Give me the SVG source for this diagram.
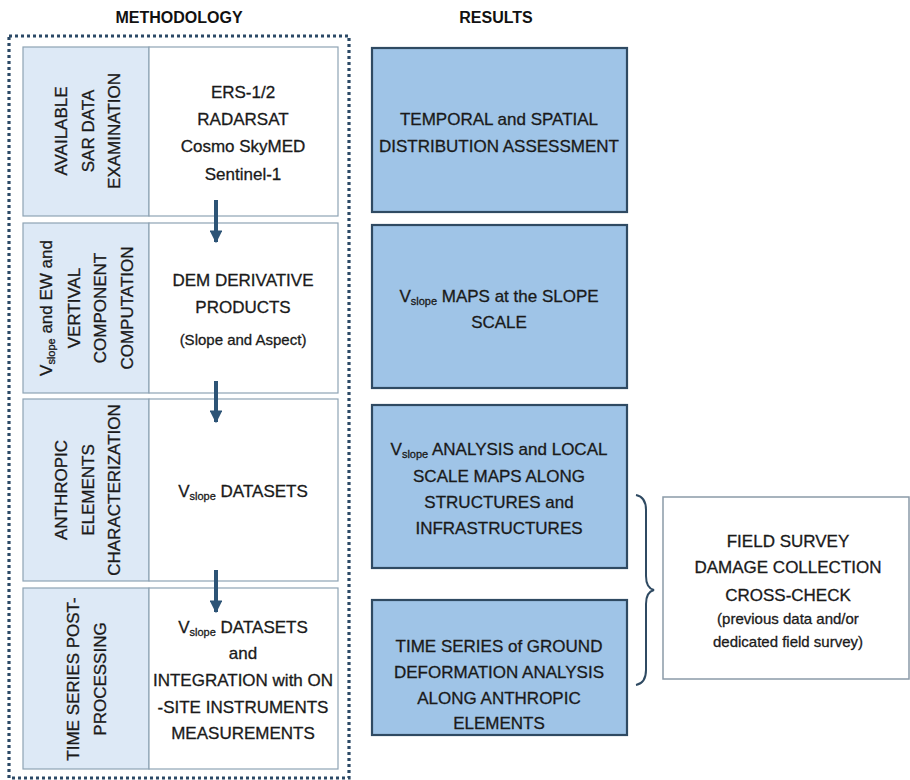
<svg xmlns="http://www.w3.org/2000/svg" width="910" height="780" viewBox="0 0 910 780">
<defs>
<style>
text{font-family:"Liberation Sans","DejaVu Sans",sans-serif;font-size:17px;fill:#1a1a1a;stroke:#1a1a1a;stroke-width:0.3;text-anchor:middle}
.title{font-weight:bold;font-size:16px;fill:#111;stroke:none}
.small{font-size:15px}
.sub{font-size:11px}
.lab{fill:#dde9f6;stroke:#8ea3b4;stroke-width:1.2}
.cell{fill:#ffffff;stroke:#8ea3b4;stroke-width:1.2}
.res{fill:#9fc4e7;stroke:#2f4a62;stroke-width:2.2}
.field{fill:#ffffff;stroke:#8b9aa8;stroke-width:1.5}
.conn{stroke:#2d5476;stroke-width:4;fill:none}
</style>
<marker id="ah" viewBox="0 0 10 10" refX="9" refY="5" markerWidth="3.2" markerHeight="3.2" orient="auto" markerUnits="strokeWidth">
<path d="M0,0 L10,5 L0,10 z" fill="#2d5476"/>
</marker>
</defs>
<rect x="0" y="0" width="910" height="780" fill="#ffffff"/>
<text class="title" x="179" y="23">METHODOLOGY</text>
<text class="title" x="496" y="23">RESULTS</text>
<rect id="frame" x="9" y="36" width="340" height="742" fill="none" stroke="#2b4966" stroke-width="3.2" stroke-dasharray="3,3"/>

<g id="stage1">
<rect class="lab" x="23" y="47" width="126" height="169"/>
<rect class="cell" x="149" y="47" width="189" height="169"/>
<g transform="translate(86,131) rotate(-90)">
<text x="0" y="-19">AVAILABLE</text>
<text x="0" y="8">SAR DATA</text>
<text x="0" y="34">EXAMINATION</text>
</g>
<text x="243" y="98">ERS-1/2</text>
<text x="243" y="125">RADARSAT</text>
<text x="243" y="152">Cosmo SkyMED</text>
<text x="243" y="180">Sentinel-1</text>
</g>

<g id="stage2">
<rect class="lab" x="23" y="223" width="126" height="170"/>
<rect class="cell" x="149" y="223" width="189" height="170"/>
<g transform="translate(86,308) rotate(-90)">
<text x="0" y="-34">V<tspan class="sub" dy="3">slope</tspan><tspan dy="-3"> and EW and</tspan></text>
<text x="0" y="-6">VERTIVAL</text>
<text x="0" y="20">COMPONENT</text>
<text x="0" y="47">COMPUTATION</text>
</g>
<text x="243" y="286">DEM DERIVATIVE</text>
<text x="243" y="313">PRODUCTS</text>
<text class="small" x="243" y="345">(Slope and Aspect)</text>
</g>

<g id="stage3">
<rect class="lab" x="23" y="399" width="126" height="182"/>
<rect class="cell" x="149" y="399" width="189" height="182"/>
<g transform="translate(86,490) rotate(-90)">
<text x="0" y="-19">ANTHROPIC</text>
<text x="0" y="8">ELEMENTS</text>
<text x="0" y="34">CHARACTERIZATION</text>
</g>
<text x="243" y="497">V<tspan class="sub" dy="3">slope</tspan><tspan dy="-3"> DATASETS</tspan></text>
</g>

<g id="stage4">
<rect class="lab" x="23" y="588" width="126" height="181"/>
<rect class="cell" x="149" y="588" width="189" height="181"/>
<g transform="translate(86,679) rotate(-90)">
<text x="0" y="-7">TIME SERIES POST-</text>
<text x="0" y="20">PROCESSING</text>
</g>
<text x="243" y="633">V<tspan class="sub" dy="3">slope</tspan><tspan dy="-3"> DATASETS</tspan></text>
<text x="243" y="659">and</text>
<text x="243" y="686">INTEGRATION with ON</text>
<text x="243" y="713">-SITE INSTRUMENTS</text>
<text x="243" y="739">MEASUREMENTS</text>
</g>

<g id="result1">
<rect class="res" x="372" y="48" width="255" height="164"/>
<text x="499" y="125">TEMPORAL and SPATIAL</text>
<text x="499" y="152">DISTRIBUTION ASSESSMENT</text>
</g>
<g id="result2">
<rect class="res" x="372" y="225" width="255" height="163"/>
<text x="499" y="302">V<tspan class="sub" dy="3">slope</tspan><tspan dy="-3"> MAPS at the SLOPE</tspan></text>
<text x="499" y="328">SCALE</text>
</g>
<g id="result3">
<rect class="res" x="372" y="405" width="255" height="163"/>
<text x="499" y="455">V<tspan class="sub" dy="3">slope</tspan><tspan dy="-3"> ANALYSIS and LOCAL</tspan></text>
<text x="499" y="482">SCALE MAPS ALONG</text>
<text x="499" y="508">STRUCTURES and</text>
<text x="499" y="534">INFRASTRUCTURES</text>
</g>
<g id="result4">
<rect class="res" x="372" y="600" width="255" height="135"/>
<text x="499" y="652">TIME SERIES of GROUND</text>
<text x="499" y="678">DEFORMATION ANALYSIS</text>
<text x="499" y="704">ALONG ANTHROPIC</text>
<text x="499" y="729">ELEMENTS</text>
</g>

<g id="fieldsurvey">
<rect class="field" x="663" y="497" width="246" height="182"/>
<text x="788" y="547">FIELD SURVEY</text>
<text x="788" y="573">DAMAGE COLLECTION</text>
<text x="788" y="601">CROSS-CHECK</text>
<text class="small" x="788" y="624">(previous data and/or</text>
<text class="small" x="788" y="647">dedicated field survey)</text>
</g>

<g id="connectors">
<line class="conn" x1="216" y1="200" x2="216" y2="242" marker-end="url(#ah)"/>
<line class="conn" x1="216" y1="381" x2="216" y2="422" marker-end="url(#ah)"/>
<line class="conn" x1="216" y1="570" x2="216" y2="612" marker-end="url(#ah)"/>
<path d="M636,495 Q646,497 646,510 L646,576 Q646,588 654,590 Q646,592 646,604 L646,670 Q646,683 636,685" fill="none" stroke="#2f4a62" stroke-width="2"/>
</g>
</svg>
